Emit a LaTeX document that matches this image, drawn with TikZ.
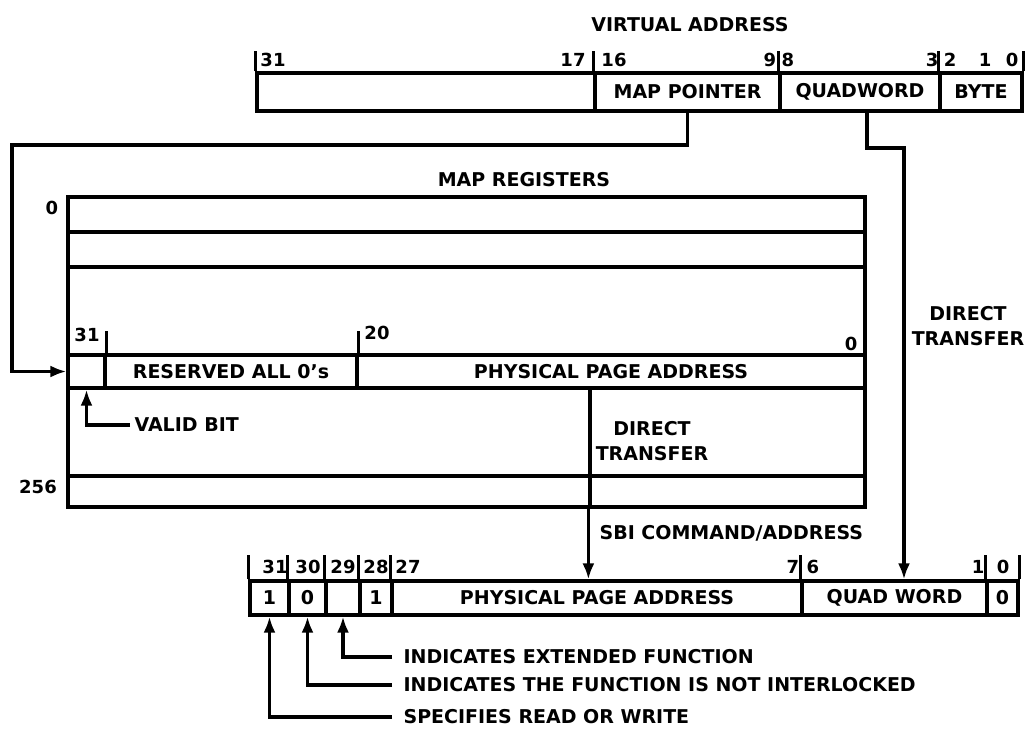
\documentclass[tikz,border=0pt]{standalone}
\usepackage{fontspec}
\setmainfont{DejaVu Sans}
\usepackage{tikz}
\usetikzlibrary{arrows.meta}

\begin{document}
\begin{tikzpicture}[>={Latex[length=16pt,width=12pt]},x=1pt,y=-1pt,line width=3.2pt,
  txt/.style={font={\fontsize{19}{25}\selectfont\bfseries},inner sep=2pt},
  num/.style={font={\fontsize{18}{20}\selectfont\bfseries},inner sep=0pt},
  fld/.style={draw,txt,inner sep=0pt,minimum height=#1},
  note/.style={txt,anchor=west,inner xsep=#1}]
  \useasboundingbox (0,0) rectangle (1030,731);
  % virtual address
  \node[txt] (va-title) at (690,25) {VIRTUAL ADDRESS};
  \node[fld=38pt,minimum width=338pt] (va-hi) at (426,92) {};
  \node[fld=38pt,minimum width=185pt] (va-mp) at (687.5,92) {MAP POINTER};
  \node[fld=38pt,minimum width=160pt] (va-qw) at (860,92) {QUADWORD};
  \node[fld=38pt,minimum width=82pt] (va-by) at (981,92) {BYTE};
  \foreach \x/\t [count=\i] in {273/31,573/17,614/16,770/9,788/8,932/3,950/2,985/1,1012/0}
    \node[num] (va-bit\i) at (\x,60) {\t};
  \foreach \a in {va-hi.north west,va-mp.north west,va-qw.north west,va-by.north west,va-by.north east}
    \draw (\a) -- ++(0,-20);
  % map registers
  \node[txt] (mr-title) at (524,180) {MAP REGISTERS};
  \node[fld=35pt,minimum width=797pt] (mr-0) at (466.5,214.5) {};
  \node[fld=35pt,minimum width=797pt] (mr-1) at (466.5,249.5) {};
  \node[fld=88pt,minimum width=797pt] (mr-2) at (466.5,311) {};
  \node[fld=33pt,minimum width=37pt] (mr-v) at (86.5,371.5) {};
  \node[fld=33pt,minimum width=252pt] (mr-res) at (231,371.5) {RESERVED ALL 0’s};
  \node[fld=33pt,minimum width=508pt] (mr-ppa) at (611,371.5) {PHYSICAL PAGE ADDRESS};
  \node[fld=88pt,minimum width=522pt] (mr-lo) at (329,432) {};
  \node[fld=88pt,minimum width=275pt] (mr-dt) at (727.5,432) {};
  \node[fld=31pt,minimum width=522pt] (mr-last) at (329,491.5) {};
  \node[fld=31pt,minimum width=275pt] (mr-lastdt) at (727.5,491.5) {};
  \node[txt,align=center] (mr-dtxt) at (652,441) {DIRECT\\TRANSFER};
  \node[num] (mr-n0) at (52,208) {0};
  \node[num] (mr-n256) at (38,487) {256};
  \node[num] (mr-b31) at (87,335) {31};
  \node[num] (mr-b20) at (377,333) {20};
  \node[num] (mr-b0) at (851,344) {0};
  \draw (mr-v.north east) -- ++(0,-22);
  \draw (mr-res.north east) -- ++(0,-22);
  \node[note=3pt] (vbit) at (130,425) {VALID BIT};
  \draw[->] (vbit.west) -| (mr-v.south);
  % SBI command/address
  \node[txt,align=center] (dt-out) at (968,326) {DIRECT\\TRANSFER};
  \node[txt,anchor=west] (sbi) at (596,533) {SBI COMMAND/ADDRESS};
  \node[fld=34pt,minimum width=39pt] (bq-31) at (269.5,598) {1};
  \node[fld=34pt,minimum width=37pt] (bq-30) at (307.5,598) {0};
  \node[fld=34pt,minimum width=34pt] (bq-29) at (343,598) {};
  \node[fld=34pt,minimum width=32pt] (bq-28) at (376,598) {1};
  \node[fld=34pt,minimum width=410pt] (bq-ppa) at (597,598) {PHYSICAL PAGE ADDRESS};
  \node[fld=34pt,minimum width=185pt] (bq-qw) at (894.5,598) {QUAD WORD};
  \node[fld=34pt,minimum width=31pt] (bq-0) at (1002.5,598) {0};
  \foreach \x/\t [count=\i] in {275/31,308/30,343/29,376/28,408/27,793/7,813/6,978/1,1003/0}
    \node[num] (bq-bit\i) at (\x,567) {\t};
  \foreach \a in {bq-31.north west,bq-30.north west,bq-29.north west,bq-28.north west,bq-ppa.north west,bq-qw.north west,bq-0.north west,bq-0.north east}
    \draw (\a) -- ++(0,-24);
  \node[note=10pt] (fn-29) at (392,657) {INDICATES EXTENDED FUNCTION};
  \node[note=10pt] (fn-30) at (392,685) {INDICATES THE FUNCTION IS NOT INTERLOCKED};
  \node[note=10pt] (fn-31) at (392,717) {SPECIFIES READ OR WRITE};
  \draw[->] (fn-29.west) -| (bq-29.south);
  \draw[->] (fn-30.west) -| (bq-30.south);
  \draw[->] (fn-31.west) -| (bq-31.south);
  % connectors
  \coordinate (mp-turn) at (12,145);
  \coordinate (qw-turn) at (904,148);
  \draw[->] (va-mp.south) |- (mp-turn) |- (mr-v.west);
  \draw[->] ([xshift=7pt]va-qw.south) |- (qw-turn) -- (qw-turn |- bq-qw.north);
  \draw[->] (mr-lastdt.south west) -- (mr-lastdt.south west |- bq-ppa.north);
\end{tikzpicture}
\end{document}
